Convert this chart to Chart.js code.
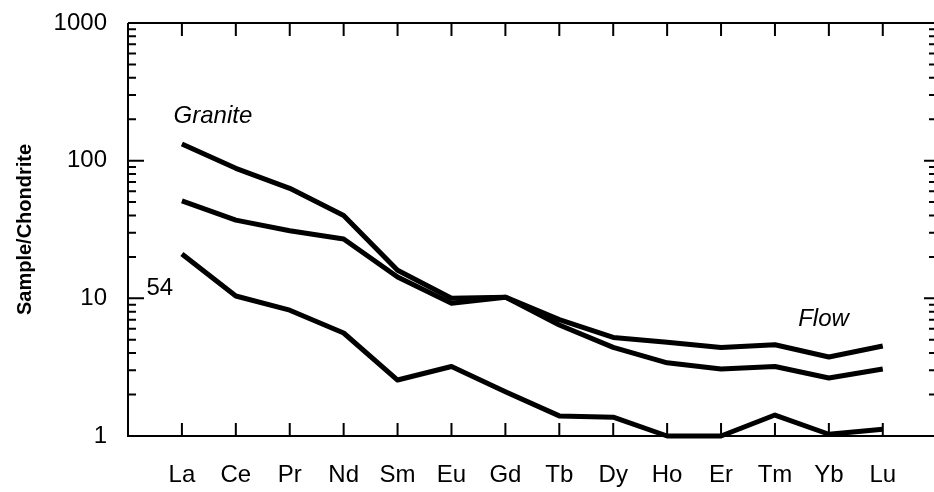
<!DOCTYPE html>
<html lang="en">
<head>
<meta charset="UTF-8" />
<title>Sample/Chondrite</title>
<script src="https://cdn.jsdelivr.net/npm/chart.js"></script>
<style>
  html, body { margin: 0; padding: 0; background: #fff; }
  #wrap { width: 934px; height: 492px; position: relative; }
</style>
</head>
<body>
<div id="wrap"><canvas id="reeChart"></canvas></div>
<script>
  // REE, chondrite-normalised
  const elements = ["La", "Ce", "Pr", "Nd", "Sm", "Eu", "Gd", "Tb", "Dy", "Ho", "Er", "Tm", "Yb", "Lu"];
  const upperSeries = [132, 88, 63, 40, 16, 10, 10.2, 7.0, 5.2, 4.8, 4.4, 4.6, 3.75, 4.5];
  const middleSeries = [51, 37, 31, 27, 14.3, 9.2, 10.2, 6.4, 4.4, 3.4, 3.07, 3.2, 2.64, 3.07];
  const lowerSeries = [21, 10.4, 8.2, 5.6, 2.55, 3.2, 2.1, 1.4, 1.37, 1.0, 1.0, 1.42, 1.03, 1.12];
  const yTickValues = [1, 10, 100, 1000];

  // text notes placed in data units
  const notes = [
    { text: "Granite", x: 0.575, y: 209, italic: true },
    { text: "54", x: -0.41, y: 11.8, italic: false },
    { text: "Flow", x: 11.9, y: 7.07, italic: true }
  ];

  const FONT = "'Liberation Sans', Arial, Helvetica, sans-serif";

  function toPoints(arr) {
    return arr.map((v, i) => ({ x: i, y: v }));
  }

  function lineSet(label, arr) {
    return {
      label: label,
      data: toPoints(arr),
      borderColor: "#000",
      borderWidth: 5,
      pointRadius: 0,
      tension: 0,
      fill: false,
      clip: false,
      borderJoinStyle: "round",
      borderCapStyle: "butt"
    };
  }

  const framePlugin = {
    id: "frame",
    afterDatasetsDraw(chart) {
      const ctx = chart.ctx;
      const a = chart.chartArea;
      const xs = chart.scales.x;
      const ys = chart.scales.y;
      ctx.save();
      ctx.strokeStyle = "#000";
      ctx.lineWidth = 2;
      // axis lines: left, bottom, top
      ctx.beginPath();
      ctx.moveTo(a.left, a.top);
      ctx.lineTo(a.left, a.bottom);
      ctx.lineTo(a.right, a.bottom);
      ctx.moveTo(a.left, a.top);
      ctx.lineTo(a.right, a.top);
      ctx.stroke();

      // category ticks, top and bottom, pointing inward
      ctx.beginPath();
      elements.forEach((el, i) => {
        const px = xs.getPixelForValue(i);
        ctx.moveTo(px, a.bottom);
        ctx.lineTo(px, a.bottom - 13);
        ctx.moveTo(px, a.top);
        ctx.lineTo(px, a.top + 13);
      });
      ctx.stroke();

      // log ticks left and right
      ctx.beginPath();
      for (let d = 1; d < 1000; d *= 10) {
        for (let k = 1; k <= 9; k++) {
          const v = d * k;
          const py = ys.getPixelForValue(v);
          const len = k === 1 ? 16 : 8;
          if (!(d === 1 && k === 1)) {
            ctx.moveTo(a.left, py);
            ctx.lineTo(a.left + len, py);
          }
          ctx.moveTo(a.right, py);
          ctx.lineTo(a.right - (k === 1 ? 10 : 5), py);
        }
      }
      ctx.stroke();

      // notes
      ctx.fillStyle = "#000";
      ctx.textAlign = "center";
      ctx.textBaseline = "middle";
      notes.forEach(n => {
        ctx.font = (n.italic ? "italic " : "") + "24px " + FONT;
        ctx.fillText(n.text, xs.getPixelForValue(n.x), ys.getPixelForValue(n.y));
      });
      ctx.restore();
    }
  };

  new Chart(document.getElementById("reeChart"), {
    type: "line",
    data: {
      datasets: [
        lineSet("Granite", upperSeries),
        lineSet("Flow", middleSeries),
        lineSet("54", lowerSeries)
      ]
    },
    options: {
      responsive: true,
      maintainAspectRatio: false,
      animation: false,
      layout: { padding: { top: 23, right: 0, left: 0, bottom: 0 } },
      plugins: {
        legend: { display: false },
        tooltip: { enabled: false }
      },
      scales: {
        x: {
          type: "linear",
          min: -1,
          max: 13.95,
          grid: { display: false, drawTicks: false },
          border: { display: false },
          afterBuildTicks: s => { s.ticks = elements.map((e, i) => ({ value: i })); },
          afterFit: s => { s.height = 56; s.paddingLeft = 0; s.paddingRight = 0; },
          ticks: {
            autoSkip: false,
            maxRotation: 0,
            padding: 25,
            color: "#000",
            font: { family: FONT, size: 24 },
            callback: v => elements[v] ?? ""
          }
        },
        y: {
          type: "logarithmic",
          min: 1,
          max: 1000,
          grid: { display: false, drawTicks: false },
          border: { display: false },
          afterBuildTicks: s => { s.ticks = yTickValues.map(v => ({ value: v })); },
          afterFit: s => { s.width = 128; s.paddingTop = 0; s.paddingBottom = 0; },
          title: {
            display: true,
            text: "Sample/Chondrite",
            color: "#000",
            font: { family: FONT, size: 20, weight: "bold" },
            padding: { top: 13, bottom: 0 }
          },
          ticks: {
            autoSkip: false,
            padding: 21,
            color: "#000",
            font: { family: FONT, size: 24 },
            callback: v => String(v)
          }
        }
      }
    },
    plugins: [framePlugin]
  });
</script>
</body>
</html>
